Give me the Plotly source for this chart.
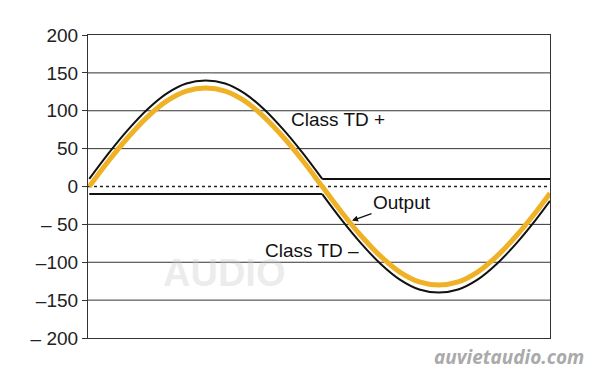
import plotly.graph_objects as go

# Phase (degrees) along the horizontal axis
phase = [0, 15, 30, 45, 60, 75, 90, 105, 120, 135, 150, 165, 180,
         195, 210, 225, 240, 255, 270, 285, 300, 315, 330, 345, 356]
# Output (orange) values
output = [0, 34, 65, 92, 113, 126, 130, 126, 113, 92, 65, 34, 0,
          -34, -65, -92, -113, -126, -130, -126, -113, -92, -65, -34, -9]
# Class TD+ (black upper) values
td_plus = [10, 44, 75, 102, 123, 136, 140, 136, 123, 102, 75, 44, 10,
           10, 10, 10, 10, 10, 10, 10, 10, 10, 10, 10, 10]
# Class TD- (black lower) values
td_minus = [-10, -10, -10, -10, -10, -10, -10, -10, -10, -10, -10, -10, -10,
            -44, -75, -102, -123, -136, -140, -136, -123, -102, -75, -44, -19]

y_ticks = [200, 150, 100, 50, 0, -50, -100, -150, -200]
y_tick_text = ["200", "150", "100", "50", "0", "\u2013 50", "\u2013100", "\u2013150", "\u2013 200"]
grid_vals = [150, 100, 50, -50, -100, -150]

split = 12  # index where the flat sections begin/end (phase 180)

fig = go.Figure()
BLACK = "#111111"
ORANGE = "#EFB226"

# TD+ curve and flat section
fig.add_trace(go.Scatter(x=phase[:split + 1], y=td_plus[:split + 1], mode="lines",
                         line=dict(color=BLACK, width=2, shape="spline"), hoverinfo="skip"))
fig.add_trace(go.Scatter(x=phase[split:], y=td_plus[split:], mode="lines",
                         line=dict(color=BLACK, width=2), hoverinfo="skip"))
# TD- flat section and curve
fig.add_trace(go.Scatter(x=phase[:split + 1], y=td_minus[:split + 1], mode="lines",
                         line=dict(color=BLACK, width=2), hoverinfo="skip"))
fig.add_trace(go.Scatter(x=phase[split:], y=td_minus[split:], mode="lines",
                         line=dict(color=BLACK, width=2, shape="spline"), hoverinfo="skip"))
# Output
fig.add_trace(go.Scatter(x=phase, y=output, mode="lines",
                         line=dict(color=ORANGE, width=5, shape="spline"), hoverinfo="skip"))

shapes = []
for g in grid_vals:
    shapes.append(dict(type="line", xref="paper", x0=0, x1=1, yref="y", y0=g, y1=g,
                       line=dict(color="#333333", width=1), layer="below"))
shapes.append(dict(type="line", xref="paper", x0=0, x1=1, yref="y", y0=0, y1=0,
                   line=dict(color="#222222", width=1.5, dash="dot"), layer="below"))

FONT = "Liberation Sans, Arial, sans-serif"
annotations = [
    # faint watermark
    dict(text="<b>AUDIO</b>", xref="paper", yref="paper", x=0.295, y=0.215, xanchor="center",
         yanchor="middle", showarrow=False,
         font=dict(family=FONT, size=38, color="rgba(205,205,205,0.4)")),
    dict(text="Class TD +", x=192, y=88, showarrow=False,
         font=dict(family=FONT, size=19, color="#111111")),
    dict(text="Class TD \u2013", x=172, y=-84, showarrow=False,
         font=dict(family=FONT, size=19, color="#111111")),
    dict(text="Output", x=203, y=-45, ax=50, ay=-18, showarrow=True,
         arrowhead=2, arrowsize=1, arrowwidth=1.2, arrowcolor="#111111", standoff=0,
         font=dict(family=FONT, size=19, color="#111111")),
    dict(text="<b><i>auvietaudio.com</i></b>", xref="paper", yref="paper", x=0.911, y=-0.064,
         xanchor="center", yanchor="middle", showarrow=False,
         font=dict(family="Open Sans, sans-serif", size=19, color="#aaaaaa")),
]

fig.update_layout(
    width=600, height=383,
    margin=dict(l=88, r=50, t=35, b=45),
    paper_bgcolor="white", plot_bgcolor="white",
    showlegend=False,
    shapes=shapes,
    annotations=annotations,
    xaxis=dict(range=[-1, 356], showgrid=False, zeroline=False, showticklabels=False,
               ticks="", showline=True, linecolor="#333333", linewidth=1.2, mirror=True,
               fixedrange=True),
    yaxis=dict(range=[-200, 200], tickvals=y_ticks, ticktext=y_tick_text,
               showgrid=False, zeroline=False, showline=True, linecolor="#333333",
               linewidth=1.2, mirror=True, ticks="outside", ticklen=5, tickcolor="#333333",
               tickfont=dict(family=FONT, size=19, color="#222222"), fixedrange=True),
)

fig.write_html("out.html")
